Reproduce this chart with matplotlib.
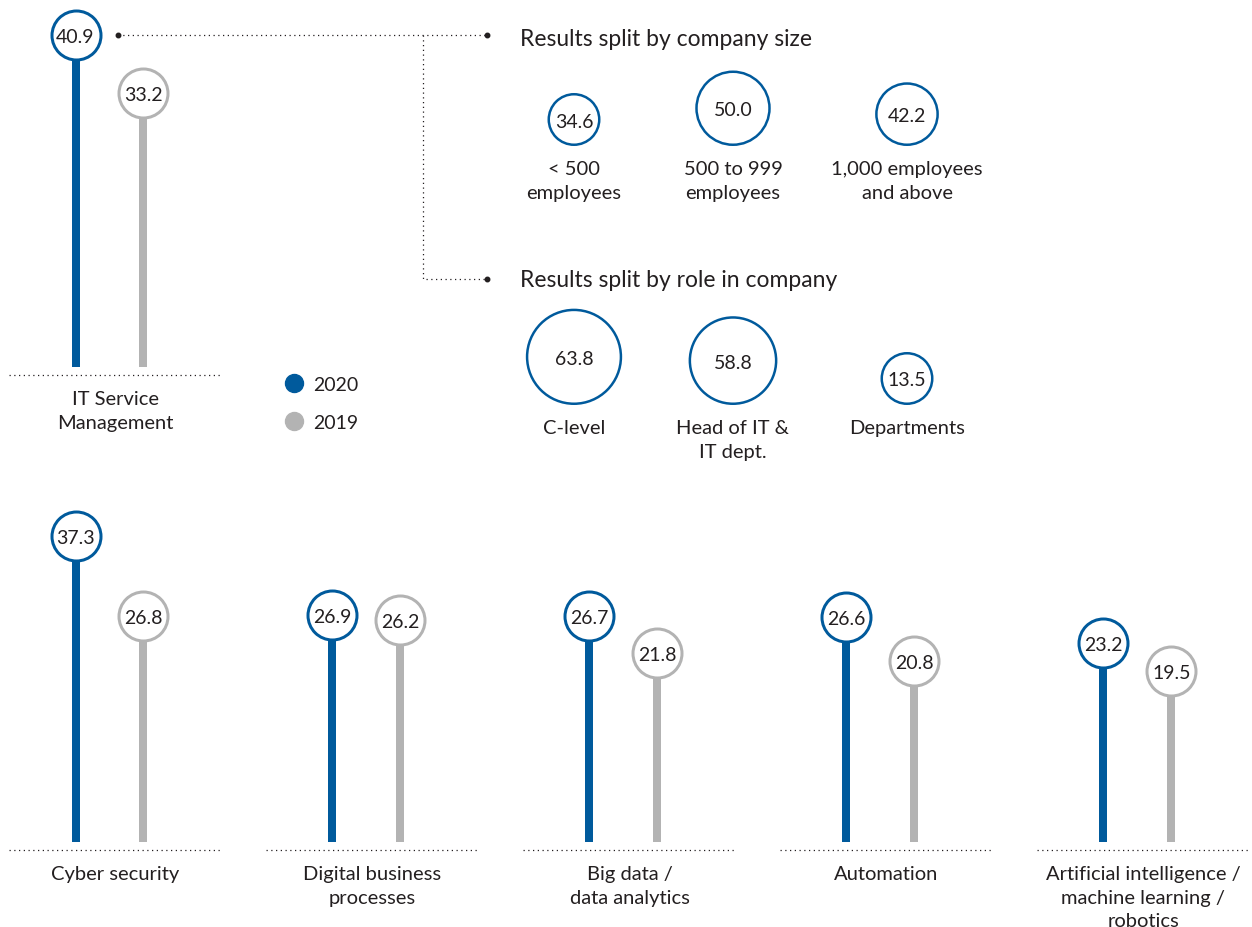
"""IT priorities 2020 vs 2019: lollipop panels plus bubble splits."""

import matplotlib

matplotlib.use("Agg")
import matplotlib.pyplot as plt
import numpy as np
from matplotlib.patches import Circle

plt.rcParams["font.family"] = ["Lato", "DejaVu Sans"]

W, H = 1252, 928
BLUE = "#005a9c"
GRAY = "#b3b3b3"
INK = "#231f20"

TOP_CATEGORIES = ["IT Service\nManagement"]
TOP_2020 = [40.9]
TOP_2019 = [33.2]

CATEGORIES = [
    "Cyber security",
    "Digital business\nprocesses",
    "Big data /\ndata analytics",
    "Automation",
    "Artificial intelligence /\nmachine learning /\nrobotics",
]
VALUES_2020 = [37.3, 26.9, 26.7, 26.6, 23.2]
VALUES_2019 = [26.8, 26.2, 21.8, 20.8, 19.5]

SIZE_LABELS = ["< 500\nemployees", "500 to 999\nemployees", "1,000 employees\nand above"]
SIZE_VALUES = [34.6, 50.0, 42.2]
ROLE_LABELS = ["C-level", "Head of IT &\nIT dept.", "Departments"]
ROLE_VALUES = [63.8, 58.8, 13.5]

LEGEND = [("2020", BLUE), ("2019", GRAY)]

K = 7.55        # px per percentage point
PITCH = 257.0   # px between category groups
FIRST = 109.5   # px centre of first group
PT = 0.72       # points per pixel at dpi 100
LABEL_FS = 14.5
VALUE_FS = 14
SPACING = 1.48


def lollipop_axes(fig, top_px, bottom_px, zero_px):
    ax = fig.add_axes([0, 1 - bottom_px / H, 1, (bottom_px - top_px) / H])
    ax.set_xlim(-FIRST / PITCH, (W - FIRST) / PITCH)
    ax.set_ylim((zero_px - bottom_px) / K, (zero_px - top_px) / K)
    ax.axis("off")
    return ax


def draw_lollipops(ax, labels, v20, v19):
    x = np.arange(len(labels))
    floor = -24 / K
    dx = 34 / PITCH
    for xs, vals, color in ((x - dx, v20, BLUE), (x + dx, v19, GRAY)):
        ax.vlines(xs, floor, vals, color=color, lw=8 * PT, zorder=1)
        ax.plot(xs, vals, "o", ms=49 * PT, mfc="white", mec=color, mew=3 * PT,
                ls="none", zorder=2)
        for xi, v in zip(xs, vals):
            ax.text(xi, v, f"{v:.1f}", ha="center", va="center_baseline",
                    fontsize=VALUE_FS, color=INK, zorder=3)
    base = floor - 8 / K
    ax.hlines(np.full(len(x), base), x - 100.5 / PITCH, x + 112.5 / PITCH,
              color=INK, lw=0.9, linestyles=(0, (1, 2.8)))
    for xi, lab in zip(x, labels):
        ax.annotate(lab, (xi + 6 / PITCH, base), xytext=(0, -15 * PT),
                    textcoords="offset points", ha="center", va="top",
                    fontsize=LABEL_FS, color=INK, linespacing=SPACING)


def draw_bubbles(ax, xs, bottom, values, labels):
    for x, v, lab in zip(xs, values, labels):
        r = max(0.755 * v, 26.5)
        cy = bottom - r
        ax.add_patch(Circle((x, cy), r - 1.25, facecolor="white",
                            edgecolor=BLUE, lw=2.5 * PT))
        ax.text(x, cy, f"{v:.1f}", ha="center", va="center_baseline",
                fontsize=VALUE_FS, color=INK)
        ax.text(x, bottom + 14, lab, ha="center", va="top", fontsize=LABEL_FS,
                color=INK, linespacing=SPACING)


def main() -> None:
    fig = plt.figure(figsize=(W / 100, H / 100), dpi=100)

    # Overlay in pixel coordinates for connectors, headings, bubbles, legend.
    ov = fig.add_axes([0, 0, 1, 1])
    ov.set_xlim(0, W)
    ov.set_ylim(H, 0)
    ov.axis("off")

    dotted = dict(color=INK, lw=0.9, ls=(0, (1, 2.8)))
    ov.plot([118, 487], [35.5, 35.5], **dotted)
    ov.plot([423, 423, 487], [35.5, 280, 280], **dotted)
    ov.plot([118, 487, 487], [35.5, 35.5, 280], "o", ms=4.5 * PT, color=INK, ls="none")

    ov.text(520, 37, "Results split by company size", ha="left",
            va="center_baseline", fontsize=16.5, color=INK)
    ov.text(520, 279, "Results split by role in company", ha="left",
            va="center_baseline", fontsize=16.5, color=INK)

    bubble_x = [574, 733, 907]
    draw_bubbles(ov, bubble_x, 147, SIZE_VALUES, SIZE_LABELS)
    draw_bubbles(ov, bubble_x, 406, ROLE_VALUES, ROLE_LABELS)

    for i, (name, color) in enumerate(LEGEND):
        y = 384 + 38 * i
        ov.plot([294], [y], "o", ms=18 * PT, color=color, ls="none")
        ov.text(313, y, name, ha="left", va="center_baseline", fontsize=14, color=INK)

    top = lollipop_axes(fig, 0, 480, 344.3)
    draw_lollipops(top, TOP_CATEGORIES, TOP_2020, TOP_2019)

    bottom = lollipop_axes(fig, 480, 928, 819)
    draw_lollipops(bottom, CATEGORIES, VALUES_2020, VALUES_2019)

    fig.savefig("out.png", dpi=100)
    plt.close(fig)


if __name__ == "__main__":
    main()
